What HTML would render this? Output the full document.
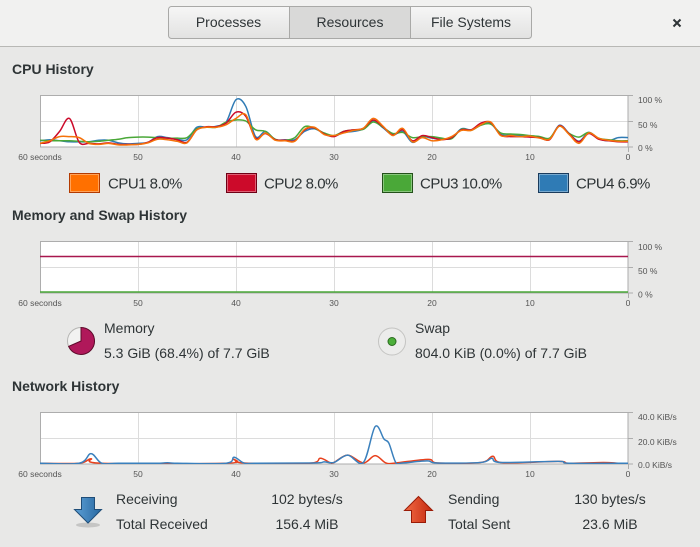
<!DOCTYPE html>
<html><head><meta charset="utf-8">
<style>
html,body{margin:0;padding:0;}
body{width:700px;height:547px;background:#e8e8e7;overflow:hidden;position:relative;font-family:"Liberation Sans",sans-serif;color:#2e3436;}
svg{position:absolute;left:0;top:0;}
.t{font-family:"Liberation Sans",sans-serif;fill:#2e3436;}
.ax{font-family:"Liberation Sans",sans-serif;fill:#555;font-size:8.5px;}
.h{font-weight:bold;font-size:14px;}
.b{font-size:14px;}
.lg{font-size:15px;letter-spacing:-0.5px;}
</style></head>
<body>
<svg width="700" height="547" viewBox="0 0 700 547" xmlns="http://www.w3.org/2000/svg">
<defs>
<linearGradient id="tabg" x1="0" y1="0" x2="0" y2="1"><stop offset="0" stop-color="#f6f6f6"/><stop offset="1" stop-color="#e2e2e1"/></linearGradient>
<linearGradient id="blueg" x1="0" y1="0" x2="1" y2="0"><stop offset="0" stop-color="#5da0d6"/><stop offset="1" stop-color="#2767a0"/></linearGradient>
<linearGradient id="redg" x1="0" y1="0" x2="1" y2="0"><stop offset="0" stop-color="#f26a44"/><stop offset="1" stop-color="#c42a10"/></linearGradient>
<clipPath id="cc"><rect x="40" y="95" width="588" height="52"/></clipPath>
<clipPath id="nc"><rect x="40" y="412" width="588" height="52"/></clipPath>
</defs>
<!-- header -->
<rect x="0" y="0" width="700" height="46" fill="#f1f1f0"/>
<line x1="0" y1="46.5" x2="700" y2="46.5" stroke="#b8b8b5"/>
<rect x="168.5" y="6.5" width="363" height="32" rx="3" fill="url(#tabg)" stroke="#a9a9a7"/>
<rect x="289.5" y="7" width="121" height="31" fill="#d9d9d8"/>
<line x1="289.5" y1="7" x2="289.5" y2="38" stroke="#a9a9a7"/>
<line x1="410.5" y1="7" x2="410.5" y2="38" stroke="#a9a9a7"/>
<text class="t b" x="228.5" y="27" text-anchor="middle">Processes</text>
<text class="t b" x="350" y="27" text-anchor="middle">Resources</text>
<text class="t b" x="471" y="27" text-anchor="middle">File Systems</text>
<path d="M673.5,19.5 L680.5,26.5 M680.5,19.5 L673.5,26.5" stroke="#2e3436" stroke-width="2"/>

<!-- titles -->
<text class="t h" x="12" y="74">CPU History</text>
<text class="t h" x="12" y="220">Memory and Swap History</text>
<text class="t h" x="12" y="391">Network History</text>

<!-- chart frames -->
<g id="frames"></g>
<g id="cpu" clip-path="url(#cc)" fill="none" stroke-width="1.5"></g>
<g id="net" clip-path="url(#nc)" fill="none" stroke-width="1.5"></g>
<!-- memory lines -->
<line x1="40" y1="256.5" x2="628" y2="256.5" stroke="#a8174e" stroke-width="1.5"/>
<line x1="40" y1="292" x2="628" y2="292" stroke="#4aa838" stroke-width="1.5"/>

<!-- axis labels -->
<g id="axl"></g>
<text class="ax" x="638" y="103">100 %</text>
<text class="ax" x="638" y="128">50 %</text>
<text class="ax" x="638" y="151">0 %</text>
<text class="ax" x="638" y="250">100 %</text>
<text class="ax" x="638" y="274">50 %</text>
<text class="ax" x="638" y="297.5">0 %</text>
<text class="ax" x="638" y="420">40.0 KiB/s</text>
<text class="ax" x="638" y="445">20.0 KiB/s</text>
<text class="ax" x="638" y="468">0.0 KiB/s</text>

<!-- CPU legend -->
<rect x="69.5" y="173.5" width="30" height="19" fill="#ff7000" stroke="#b33a00"/>
<rect x="70.5" y="174.5" width="28" height="17" fill="none" stroke="rgba(255,255,255,0.35)"/>
<text class="t lg" x="108" y="188.5">CPU1 8.0%</text>
<rect x="226.5" y="173.5" width="30" height="19" fill="#cc0a2a" stroke="#6e0015"/>
<rect x="227.5" y="174.5" width="28" height="17" fill="none" stroke="rgba(255,255,255,0.35)"/>
<text class="t lg" x="264" y="188.5">CPU2 8.0%</text>
<rect x="382.5" y="173.5" width="30" height="19" fill="#4aa838" stroke="#23501a"/>
<rect x="383.5" y="174.5" width="28" height="17" fill="none" stroke="rgba(255,255,255,0.35)"/>
<text class="t lg" x="420" y="188.5">CPU3 10.0%</text>
<rect x="538.5" y="173.5" width="30" height="19" fill="#2f7bb5" stroke="#1a3b5c"/>
<rect x="539.5" y="174.5" width="28" height="17" fill="none" stroke="rgba(255,255,255,0.35)"/>
<text class="t lg" x="576" y="188.5">CPU4 6.9%</text>

<!-- memory / swap -->
<circle cx="81" cy="341" r="13.5" fill="#f2f2f1" stroke="#b5b5b3"/>
<path d="M81,341 L81,327.5 A13.5,13.5 0 1 1 68.65,346.4 Z" fill="#b0185a" stroke="#5e0a2b" stroke-width="1"/>
<text class="t b" x="104" y="333">Memory</text>
<text class="t b" x="104" y="358">5.3 GiB (68.4%) of 7.7 GiB</text>
<circle cx="392" cy="341.5" r="13.5" fill="#ececeb" stroke="#c4c4c2"/>
<circle cx="392" cy="341.5" r="4" fill="#4caf3a" stroke="#2a6a1e"/>
<text class="t b" x="415" y="333">Swap</text>
<text class="t b" x="415" y="358">804.0 KiB (0.0%) of 7.7 GiB</text>

<!-- network legend -->
<ellipse cx="88" cy="525" rx="12" ry="2.5" fill="rgba(0,0,0,0.15)"/>
<path d="M81.5,497.5 L94.5,497.5 L94.5,509.5 L101.5,509.5 L88,523 L74.5,509.5 L81.5,509.5 Z" fill="url(#blueg)" stroke="#1f4d78"/>
<path d="M418.5,496.5 L432.5,510.5 L425.5,510.5 L425.5,522.5 L411.5,522.5 L411.5,510.5 L404.5,510.5 Z" fill="url(#redg)" stroke="#9a1a06"/>
<text class="t b" x="116" y="504">Receiving</text>
<text class="t b" x="116" y="529">Total Received</text>
<text class="t b" x="307" y="504" text-anchor="middle">102 bytes/s</text>
<text class="t b" x="307" y="529" text-anchor="middle">156.4 MiB</text>
<text class="t b" x="448" y="504">Sending</text>
<text class="t b" x="448" y="529">Total Sent</text>
<text class="t b" x="610" y="504" text-anchor="middle">130 bytes/s</text>
<text class="t b" x="610" y="529" text-anchor="middle">23.6 MiB</text>
</svg>
<script>
(function(){
var NS="http://www.w3.org/2000/svg";
function el(tag,attrs,parent){var e=document.createElementNS(NS,tag);for(var k in attrs)e.setAttribute(k,attrs[k]);parent.appendChild(e);return e;}
var frames=document.getElementById('frames');
var axl=document.getElementById('axl');
var tops=[95,241,412];
var labs=["60 seconds","50","40","30","20","10","0"];
tops.forEach(function(t){
  el('rect',{x:40,y:t,width:588,height:52,fill:'#ffffff'},frames);
  for(var k=1;k<6;k++){var x=40+98*k+0.5;el('line',{x1:x,y1:t,x2:x,y2:t+52,stroke:'#dcdcdc'},frames);}
  el('line',{x1:40,y1:t+26.5,x2:628,y2:t+26.5,stroke:'#dcdcdc'},frames);
  el('rect',{x:40.5,y:t+0.5,width:587.5,height:51.5,fill:'none',stroke:'#adadad'},frames);
  el('line',{x1:628,y1:t+0.5,x2:633,y2:t+0.5,stroke:'#adadad'},frames);
  el('line',{x1:628,y1:t+26.5,x2:633,y2:t+26.5,stroke:'#adadad'},frames);
  el('line',{x1:628,y1:t+52,x2:633,y2:t+52,stroke:'#adadad'},frames);
  el('line',{x1:628.5,y1:t+52,x2:628.5,y2:t+57,stroke:'#adadad'},frames);
  for(var k=0;k<7;k++){
    var tx=el('text',{x:40+98*k,y:t+65,'class':'ax','text-anchor':'middle'},axl);
    tx.textContent=labs[k];
  }
});
function smooth(pts){
  var d="M"+pts[0][0].toFixed(2)+","+pts[0][1].toFixed(2);
  for(var k=0;k<pts.length-1;k++){
    var p0=pts[k-1]||pts[k],p1=pts[k],p2=pts[k+1],p3=pts[k+2]||p2;
    var c1x=p1[0]+(p2[0]-p0[0])/6,c1y=p1[1]+(p2[1]-p0[1])/6;
    var c2x=p2[0]-(p3[0]-p1[0])/6,c2y=p2[1]-(p3[1]-p1[1])/6;
    d+=" C"+c1x.toFixed(2)+","+c1y.toFixed(2)+" "+c2x.toFixed(2)+","+c2y.toFixed(2)+" "+p2[0].toFixed(2)+","+p2[1].toFixed(2);
  }
  return d;
}
function mapArr(arr,top){return arr.map(function(v,i){return [40+i*9.8, top+52-v/100*52];});}
function mapPts(arr,top){return arr.map(function(p){return [40+p[0]*9.8, top+52-p[1]/100*52];});}
var cpu1=[7,12,20,20,18,7,5,7,4,4,5,8,15,14,11,8,33,38,38,43,55,62,15,27,13,12,11,34,38,24,22,27,32,36,55,40,22,36,10,18,12,14,20,32,32,43,48,22,22,20,21,17,15,40,24,7,27,17,13,11,11];
var cpu2=[7,10,30,55,9,7,6,8,5,5,5,9,18,17,14,9,33,39,39,46,67,59,17,26,14,13,12,33,37,25,20,30,33,36,52,39,23,33,12,22,18,14,18,33,33,46,47,23,20,20,19,18,14,41,25,10,26,15,12,10,10];
var cpu3=[13,12,12,12,11,10,11,13,15,18,19,19,18,17,17,18,35,38,38,48,52,50,33,30,15,13,18,39,36,27,22,30,33,34,48,38,26,28,18,20,20,17,16,34,32,42,44,27,25,24,22,20,17,40,26,19,28,17,14,12,12];
var cpu4=[12,14,12,10,10,10,13,13,8,6,7,9,20,18,15,14,38,38,40,48,91,78,20,30,14,14,14,30,35,26,21,28,30,35,50,37,23,30,9,20,17,15,17,35,33,42,45,24,23,22,20,18,15,42,26,11,28,16,12,18,18];
var g=document.getElementById('cpu');
[[cpu4,'#2f7bb5'],[cpu3,'#4aa838'],[cpu2,'#cc0a2a'],[cpu1,'#f5720a']].forEach(function(s){
  el('path',{d:smooth(mapArr(s[0],95)),stroke:s[1],'stroke-linejoin':'round'},g);
});
var rx=[[0,1.5],[4,1.5],[5.2,20],[6.3,1.5],[8,1.5],[12,1.5],[13,2.5],[14,1.5],[19,1.5],[19.8,13],[20.8,2],[22,1.5],[28,2],[29,4],[30,3],[31.4,17],[33,3],[34.2,72],[35.1,48],[35.6,40],[36.3,3],[37,2],[39.5,6],[40.5,2],[45,3],[46.1,11],[47,3],[52.9,5],[54,1.5],[60,1.5]];
var tx=[[0,1.5],[4,1.5],[5.2,10],[6.3,1.5],[19,1.5],[19.8,9],[20.8,2],[27.5,1.5],[28.6,11],[29.6,2.5],[30,3],[31.4,17],[33,2],[34.2,16],[35.3,2],[36.3,2],[39.6,9],[40.6,2],[45,3],[46.2,15],[47.2,2.5],[52.9,5],[54,1.5],[57.5,3],[59,1.5],[60,1.5]];
var ng=document.getElementById('net');
el('path',{d:smooth(mapPts(tx,412)),stroke:'#e8401c','stroke-linejoin':'round'},ng);
el('path',{d:smooth(mapPts(rx,412)),stroke:'#3a80bd','stroke-linejoin':'round'},ng);
})();
</script>
</body></html>
